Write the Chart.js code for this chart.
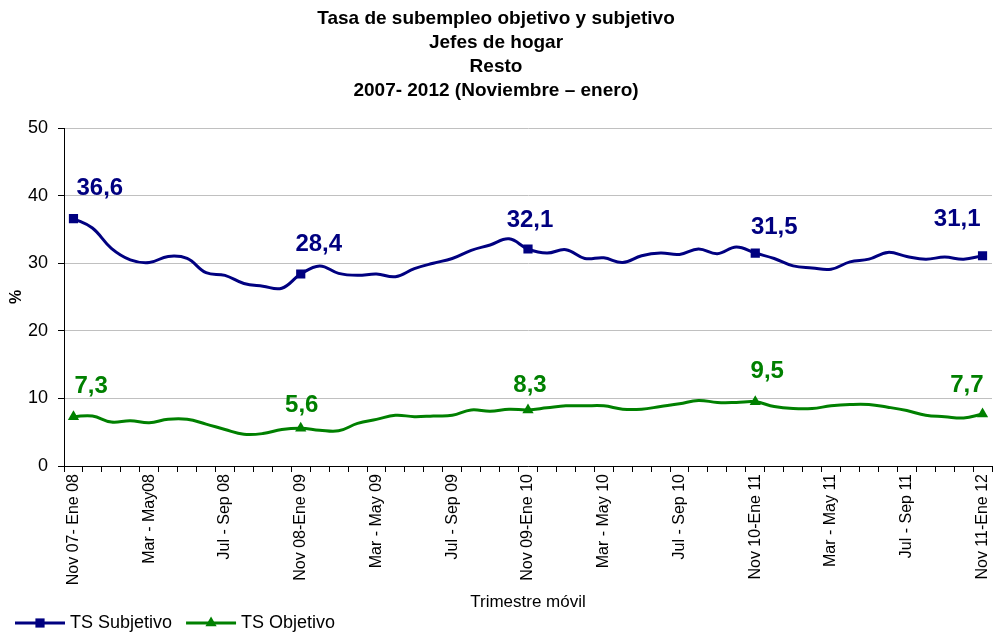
<!DOCTYPE html>
<html>
<head>
<meta charset="utf-8">
<script src="https://cdn.jsdelivr.net/npm/chart.js@4.4.1/dist/chart.umd.min.js"></script>
<style>
  body { margin: 0; background: #fff; }
  canvas { display: block; }
</style>
</head>
<body>
<canvas id="chart" width="993" height="634"></canvas>
<script>
// trimestres moviles, nov 07 - ene 12
const trimestres = [
  'Nov 07- Ene 08', 'Dic 07 - Feb 08', 'Ene - Mar 08', 'Feb - Abr 08', 'Mar - May08', 'Abr - Jun 08',
  'May - Jul 08', 'Jun - Ago 08', 'Jul - Sep 08', 'Ago - Oct 08', 'Sep - Nov 08', 'Oct - Dic 08',
  'Nov 08-Ene 09', 'Dic 08 - Feb 09', 'Ene - Mar 09', 'Feb - Abr 09', 'Mar - May 09', 'Abr - Jun 09',
  'May - Jul 09', 'Jun - Ago 09', 'Jul - Sep 09', 'Ago - Oct 09', 'Sep - Nov 09', 'Oct - Dic 09',
  'Nov 09-Ene 10', 'Dic 09 - Feb 10', 'Ene - Mar 10', 'Feb - Abr 10', 'Mar - May 10', 'Abr - Jun 10',
  'May - Jul 10', 'Jun - Ago 10', 'Jul - Sep 10', 'Ago - Oct 10', 'Sep - Nov 10', 'Oct - Dic 10',
  'Nov 10-Ene 11', 'Dic 10 - Feb 11', 'Ene - Mar 11', 'Feb - Abr 11', 'Mar - May 11', 'Abr - Jun 11',
  'May - Jul 11', 'Jun - Ago 11', 'Jul - Sep 11', 'Ago - Oct 11', 'Sep - Nov 11', 'Oct - Dic 11',
  'Nov 11-Ene 12'
];

const tsSubjetivo = [
  36.6, 35.2, 32.2, 30.5, 30.1, 31.0, 30.7, 28.6, 28.2, 27.0, 26.6, 26.3,
  28.4, 29.6, 28.5, 28.2, 28.4, 28.0, 29.2, 30.0, 30.7, 31.9, 32.7, 33.6,
  32.1, 31.5, 32.0, 30.7, 30.8, 30.1, 31.1, 31.5, 31.3, 32.1, 31.4, 32.4,
  31.5, 30.7, 29.6, 29.3, 29.1, 30.2, 30.6, 31.6, 31.0, 30.6, 30.9, 30.6, 31.1
];

const tsObjetivo = [
  7.3, 7.4, 6.5, 6.7, 6.4, 6.9, 6.9, 6.2, 5.4, 4.7, 4.8, 5.4,
  5.6, 5.3, 5.2, 6.3, 6.9, 7.5, 7.3, 7.4, 7.5, 8.3, 8.1, 8.4,
  8.3, 8.6, 8.9, 8.9, 8.9, 8.4, 8.4, 8.8, 9.2, 9.7, 9.4, 9.4,
  9.5, 8.8, 8.5, 8.5, 8.9, 9.1, 9.1, 8.7, 8.2, 7.5, 7.3, 7.1, 7.7
];

// puntos con marcador y etiqueta (cada noviembre-enero)
const puntosMarcados = [0, 12, 24, 36, 48];
const yTicks = [0, 10, 20, 30, 40, 50];

const AZUL = '#000080';
const VERDE = '#008000';
const FONT = 'Arial, "Liberation Sans", sans-serif';

const markerRadius = (r) => (ctx) => puntosMarcados.includes(ctx.dataIndex) ? r : 0;

// etiquetas de valor, coma decimal
const etiquetasPlugin = {
  id: 'etiquetas',
  afterDatasetsDraw(chart, args, opts) {
    const ctx = chart.ctx;
    ctx.save();
    ctx.font = 'bold 24px ' + FONT;
    ctx.textBaseline = 'alphabetic';
    chart.data.datasets.forEach((ds, di) => {
      const meta = chart.getDatasetMeta(di);
      const place = opts.place[di];
      puntosMarcados.forEach((idx, k) => {
        const pt = meta.data[idx];
        const txt = ds.data[idx].toFixed(1).replace('.', ',');
        const p = place[k];
        ctx.fillStyle = ds.borderColor;
        ctx.textAlign = p.align;
        ctx.fillText(txt, pt.x + p.dx, pt.y + p.dy);
      });
    });
    ctx.restore();
  }
};

// leyenda estilo excel: linea con marcador
const leyendaPlugin = {
  id: 'leyendaExcel',
  afterDraw(chart) {
    const ctx = chart.ctx;
    const y = 623;
    let x = 15;
    ctx.save();
    ctx.font = '18px ' + FONT;
    ctx.textBaseline = 'middle';
    ctx.textAlign = 'left';
    chart.data.datasets.forEach((ds) => {
      ctx.strokeStyle = ds.borderColor;
      ctx.fillStyle = ds.borderColor;
      ctx.lineWidth = 3;
      ctx.beginPath();
      ctx.moveTo(x, y);
      ctx.lineTo(x + 50, y);
      ctx.stroke();
      Chart.helpers.drawPoint(ctx, {pointStyle: ds.pointStyle, radius: 6.5, borderWidth: 0}, x + 25, y);
      ctx.fillStyle = '#000';
      ctx.fillText(ds.label, x + 55, y);
      x += 55 + ctx.measureText(ds.label).width + 14;
    });
    ctx.restore();
  }
};

new Chart(document.getElementById('chart'), {
  type: 'line',
  data: {
    labels: trimestres,
    datasets: [
      {
        label: 'TS Subjetivo',
        data: tsSubjetivo,
        borderColor: AZUL,
        backgroundColor: AZUL,
        borderWidth: 3,
        tension: 0.4,
        pointStyle: 'rect',
        pointRadius: markerRadius(6.5),
        pointHoverRadius: 0,
        pointBorderWidth: 0
      },
      {
        label: 'TS Objetivo',
        data: tsObjetivo,
        borderColor: VERDE,
        backgroundColor: VERDE,
        borderWidth: 3,
        tension: 0.4,
        pointStyle: 'triangle',
        pointRadius: markerRadius(6.5),
        pointHoverRadius: 0,
        pointBorderWidth: 0
      }
    ]
  },
  options: {
    responsive: false,
    animation: false,
    devicePixelRatio: 1,
    layout: {
      autoPadding: false,
      padding: {left: 0, right: 1, top: 0, bottom: 17}
    },
    plugins: {
      legend: {display: false},
      tooltip: {enabled: false},
      title: {
        display: true,
        text: ['Tasa de subempleo objetivo y subjetivo', 'Jefes de hogar', 'Resto', '2007- 2012 (Noviembre \u2013 enero)'],
        color: '#000',
        font: {family: FONT, size: 19, weight: 'bold', lineHeight: 24 / 19},
        padding: {top: 7, bottom: 25}
      },
      etiquetas: {
        place: [
          [{align: 'left', dx: 3, dy: -24}, {align: 'center', dx: 18, dy: -23}, {align: 'center', dx: 2, dy: -22},
           {align: 'center', dx: 19, dy: -19}, {align: 'right', dx: -2, dy: -30}],
          [{align: 'left', dx: 1, dy: -24}, {align: 'center', dx: 1, dy: -16}, {align: 'center', dx: 2, dy: -18},
           {align: 'center', dx: 12, dy: -24}, {align: 'right', dx: 1, dy: -22}]
        ]
      }
    },
    scales: {
      x: {
        offset: true,
        grid: {
          offset: true,
          drawOnChartArea: false,
          drawTicks: true,
          tickLength: 6,
          tickColor: '#000'
        },
        border: {color: '#000', width: 1},
        ticks: {
          autoSkip: false,
          minRotation: 90,
          maxRotation: 90,
          padding: 2,
          color: '#000',
          font: {family: FONT, size: 16},
          callback: function (v, i) {
            return i % 4 === 0 ? this.getLabelForValue(v) : '';
          }
        },
        title: {
          display: true,
          text: 'Trimestre m\u00f3vil',
          color: '#000',
          font: {family: FONT, size: 17},
          padding: {top: 4, bottom: 4}
        },
        afterFit: (scale) => {
          scale.height = 634 - 17 - 466;
          scale.paddingLeft = 0;
          scale.paddingRight = 0;
        }
      },
      y: {
        min: 0,
        max: 50,
        afterBuildTicks: (scale) => { scale.ticks = yTicks.map((v) => ({value: v})); },
        grid: {
          color: '#c0c0c0',
          lineWidth: 1,
          tickLength: 6,
          tickColor: '#000'
        },
        border: {color: '#000', width: 1},
        ticks: {
          padding: 10,
          color: '#000',
          font: {family: FONT, size: 18}
        },
        title: {
          display: true,
          text: '%',
          color: '#000',
          font: {family: FONT, size: 16, weight: 'bold'},
          padding: {top: 7, bottom: 0}
        },
        afterFit: (scale) => { scale.width = 64; }
      }
    }
  },
  plugins: [etiquetasPlugin, leyendaPlugin]
});
</script>
</body>
</html>
